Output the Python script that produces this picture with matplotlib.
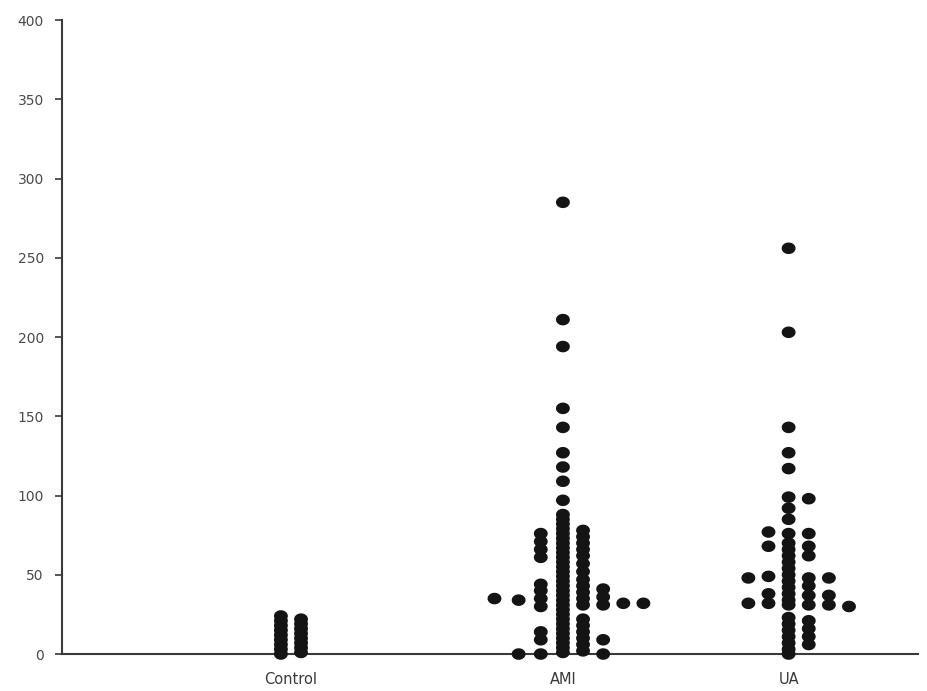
import numpy as np
import matplotlib
matplotlib.use('Agg')
import matplotlib.pyplot as plt
from matplotlib.path import Path

# Groups and their positions on the x axis (centres are not evenly spaced in the source)
groups = ['Control', 'AMI', 'UA']
group_pos = [1.0, 2.0, 2.83]

# Values for each group, stacked per dot column (column index relative to the centre)
control_values = [24, 21, 18, 15, 12, 9, 6, 3, 0,
                  22, 19, 16, 13, 10, 7, 4, 1]
control_cols = [-0.5] * 9 + [0.5] * 8

ami_values = [35,
              34, 0,
              76, 71, 66, 61, 44, 40, 35, 30, 14, 9, 0,
              285, 211, 194, 155, 143, 127, 118, 109, 97, 88,
              85, 82, 79, 76, 73, 70, 67, 64, 61, 58, 55, 52, 49, 46, 43,
              40, 37, 34, 31, 28, 25, 22, 19, 16, 13, 10, 7, 4, 1,
              78, 74, 70, 66, 62, 57, 52, 47, 43, 39, 35, 31, 22, 18, 14, 10, 6, 2,
              41, 36, 31, 9, 0,
              32,
              32]
ami_cols = ([-3.4] + [-2.2] * 2 + [-1.1] * 11 + [0] * 39 + [1] * 18
            + [2] * 5 + [3] + [4])

ua_values = [48, 32,
             77, 68, 49, 38, 32,
             256, 203, 143, 127, 117, 99, 92, 85, 76, 70, 66, 62, 58, 54,
             50, 46, 42, 38, 34, 31, 23, 19, 15, 11, 7, 3, 0,
             98, 76, 68, 62, 48, 43, 37, 31, 21, 16, 11, 6,
             48, 37, 31,
             30]
ua_cols = ([-2] * 2 + [-1] * 5 + [0] * 27 + [1] * 12 + [2] * 3 + [3])

col_width = 0.074

# slightly wide oval dot, like the source
t = np.linspace(0, 2 * np.pi, 40)
oval = Path(np.column_stack([1.2 * np.cos(t), np.sin(t)]), closed=True)

fig = plt.figure(figsize=(9.28, 6.91), dpi=100)
ax = fig.add_axes([0.0668, 0.0535, 0.9222, 0.9175])

for pos, vals, cols in zip(group_pos,
                           [control_values, ami_values, ua_values],
                           [control_cols, ami_cols, ua_cols]):
    x = pos + np.array(cols) * col_width
    ax.scatter(x, vals, s=100, marker=oval, color='#141414',
               edgecolors='none', clip_on=False, zorder=3)

ax.set_xlim(0.158, 3.305)
ax.set_ylim(0, 400)
ax.set_yticks(range(0, 401, 50))
ax.set_xticks(group_pos)
ax.set_xticklabels(groups)

for side in ['top', 'right']:
    ax.spines[side].set_visible(False)
for side in ['left', 'bottom']:
    ax.spines[side].set_color('#3a3a3a')
    ax.spines[side].set_linewidth(1.5)

ax.tick_params(axis='y', direction='out', length=5, width=1.2, color='#3a3a3a',
               pad=8, labelsize=10, labelcolor='#4a4a4a')
ax.tick_params(axis='x', length=0, pad=13, labelsize=10.5, labelcolor='#3a3a3a')

plt.savefig('out.png', dpi=100)
